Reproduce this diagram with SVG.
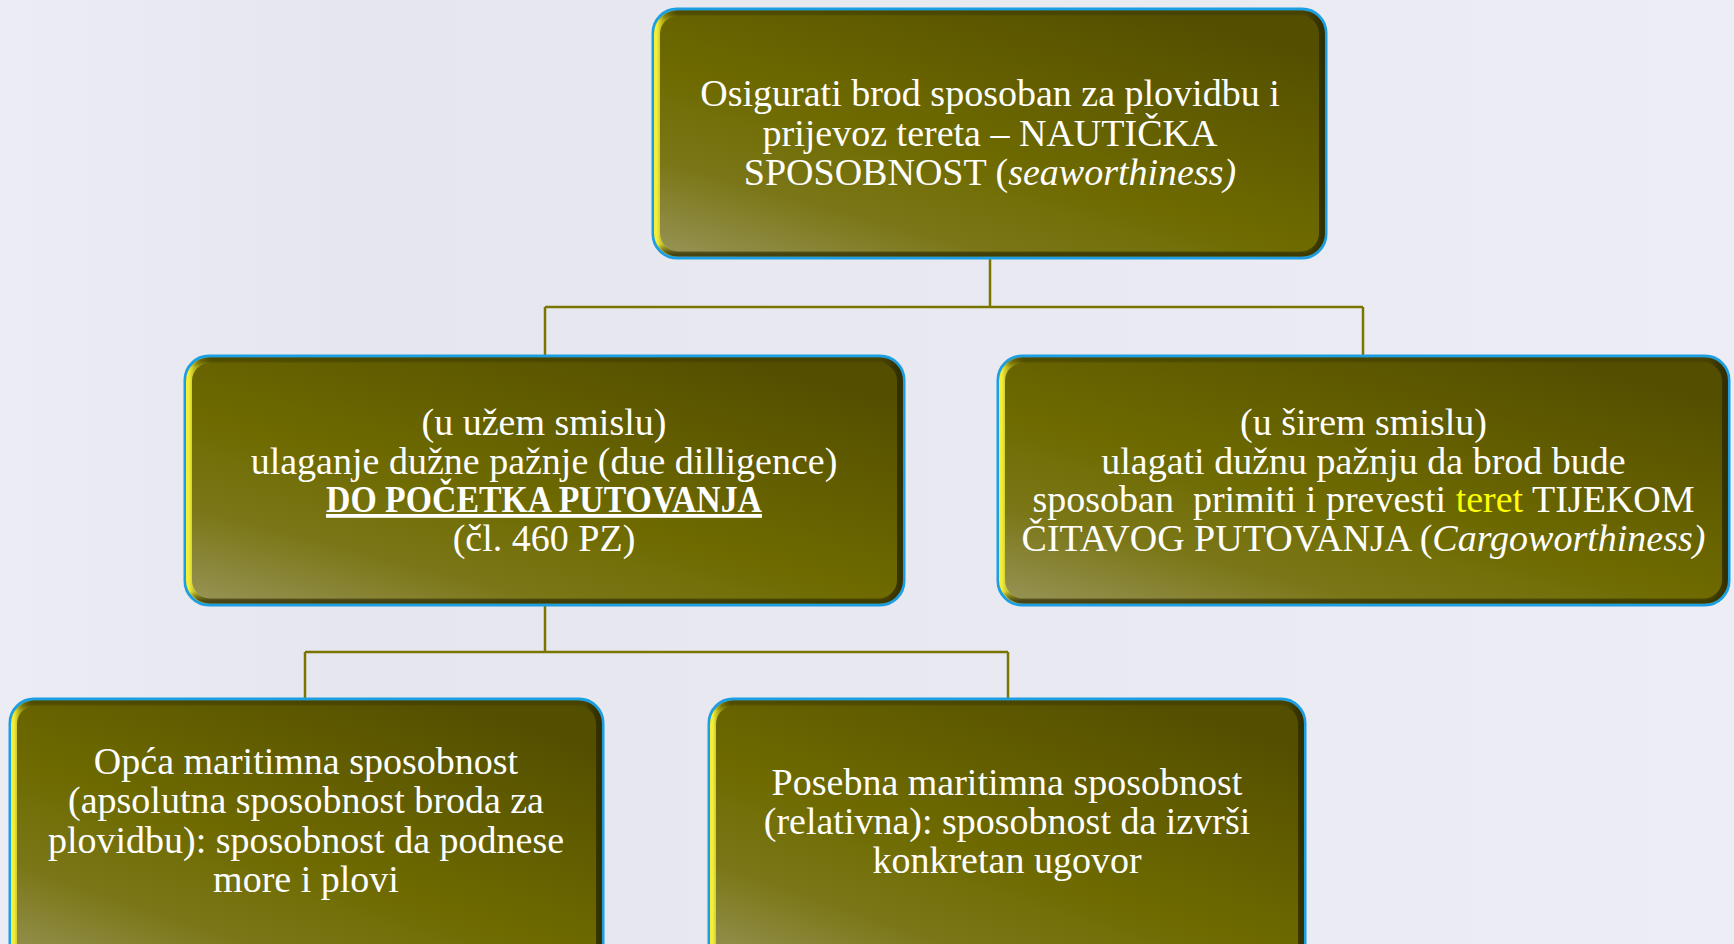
<svg xmlns="http://www.w3.org/2000/svg" width="1734" height="944" viewBox="0 0 1734 944">
<defs>
<linearGradient id="bg" x1="0" y1="0" x2="1" y2="0">
<stop offset="0" stop-color="#ececf5"/>
<stop offset="0.2" stop-color="#e6e6ee"/>
<stop offset="0.6" stop-color="#e9e9f1"/>
<stop offset="1" stop-color="#ededf5"/>
</linearGradient>
<linearGradient id="fill" x1="0" y1="1" x2="0.75" y2="0">
<stop offset="0" stop-color="#99955a"/>
<stop offset="0.25" stop-color="#7b7718"/>
<stop offset="0.5" stop-color="#6e6a00"/>
<stop offset="1" stop-color="#544f00"/>
</linearGradient>
<linearGradient id="bevelH" x1="0" y1="0" x2="1" y2="0">
<stop offset="0" stop-color="#f2ee3a" stop-opacity="1"/>
<stop offset="0.012" stop-color="#c8c420" stop-opacity="0.6"/>
<stop offset="0.03" stop-color="#c8c420" stop-opacity="0"/>
<stop offset="0.975" stop-color="#2e2b00" stop-opacity="0"/>
<stop offset="0.99" stop-color="#2e2b00" stop-opacity="0.7"/>
<stop offset="1" stop-color="#2e2b00" stop-opacity="0.9"/>
</linearGradient>
<linearGradient id="bevelV" x1="0" y1="0" x2="0" y2="1">
<stop offset="0" stop-color="#3a3600" stop-opacity="0.5"/>
<stop offset="0.03" stop-color="#3a3600" stop-opacity="0"/>
<stop offset="0.96" stop-color="#2e2b00" stop-opacity="0"/>
<stop offset="1" stop-color="#2e2b00" stop-opacity="0.75"/>
</linearGradient>
</defs>
<style>
.box{fill:url(#fill);stroke:#1c9fe2;stroke-width:3}
.bh{fill:none;stroke:url(#bevelH);stroke-width:6}
.bv{fill:none;stroke:url(#bevelV);stroke-width:5}
.t{font-family:"Liberation Serif","Times New Roman",serif;font-size:38px;fill:#ffffff;text-anchor:middle;white-space:pre}
.it{font-style:italic}
.b{font-weight:bold;text-decoration:underline}
.y{fill:#ffff00}
.conn{fill:none;stroke:#7a7400;stroke-width:2.5}
</style>
<rect x="0" y="0" width="1734" height="944" fill="url(#bg)"/>
<g id="connectors" class="conn">
<path d="M990 258 V307 M545 307 H1363 M545 307 V355 M1363 307 V355"/>
<path d="M545 605 V652 M305 652 H1008 M305 652 V698 M1008 652 V698"/>
</g>
<g id="node-top">
<rect class="box" x="653" y="9" width="673" height="249" rx="24"/>
<rect class="bh" x="657" y="13" width="665" height="241" rx="21"/>
<rect class="bv" x="657" y="13" width="665" height="241" rx="21"/>
<text class="t" x="990" y="106">Osigurati brod sposoban za plovidbu i</text>
<text class="t" x="990" y="145.5">prijevoz tereta – NAUTIČKA</text>
<text class="t" x="990" y="185">SPOSOBNOST (<tspan class="it">seaworthiness)</tspan></text>
</g>
<g id="node-left">
<rect class="box" x="185" y="356" width="719" height="249" rx="24"/>
<rect class="bh" x="189" y="360" width="711" height="241" rx="21"/>
<rect class="bv" x="189" y="360" width="711" height="241" rx="21"/>
<text class="t" x="544" y="435">(u užem smislu)</text>
<text class="t" x="544" y="473.5">ulaganje dužne pažnje (due dilligence)</text>
<text class="t b" x="544" y="512" textLength="436" lengthAdjust="spacingAndGlyphs">DO POČETKA PUTOVANJA</text>
<text class="t" x="544" y="550.5">(čl. 460 PZ)</text>
</g>
<g id="node-right">
<rect class="box" x="998" y="356" width="731" height="249" rx="24"/>
<rect class="bh" x="1002" y="360" width="723" height="241" rx="21"/>
<rect class="bv" x="1002" y="360" width="723" height="241" rx="21"/>
<text class="t" x="1363.5" y="435">(u širem smislu)</text>
<text class="t" x="1363.5" y="473.5">ulagati dužnu pažnju da brod bude</text>
<text class="t" x="1363.5" y="512">sposoban  primiti i prevesti <tspan class="y">teret</tspan> TIJEKOM</text>
<text class="t" x="1363.5" y="550.5">ČITAVOG PUTOVANJA (<tspan class="it">Cargoworthiness)</tspan></text>
</g>
<g id="node-bottom-left">
<rect class="box" x="10" y="699" width="593" height="270" rx="24"/>
<rect class="bh" x="14" y="703" width="585" height="262" rx="21"/>
<rect class="bv" x="14" y="703" width="585" height="262" rx="21"/>
<text class="t" x="306" y="774">Opća maritimna sposobnost</text>
<text class="t" x="306" y="813">(apsolutna sposobnost broda za</text>
<text class="t" x="306" y="853">plovidbu): sposobnost da podnese</text>
<text class="t" x="306" y="892">more i plovi</text>
</g>
<g id="node-bottom-right">
<rect class="box" x="709" y="699" width="596" height="270" rx="24"/>
<rect class="bh" x="713" y="703" width="588" height="262" rx="21"/>
<rect class="bv" x="713" y="703" width="588" height="262" rx="21"/>
<text class="t" x="1007" y="795">Posebna maritimna sposobnost</text>
<text class="t" x="1007" y="834">(relativna): sposobnost da izvrši</text>
<text class="t" x="1007" y="873">konkretan ugovor</text>
</g>
</svg>
